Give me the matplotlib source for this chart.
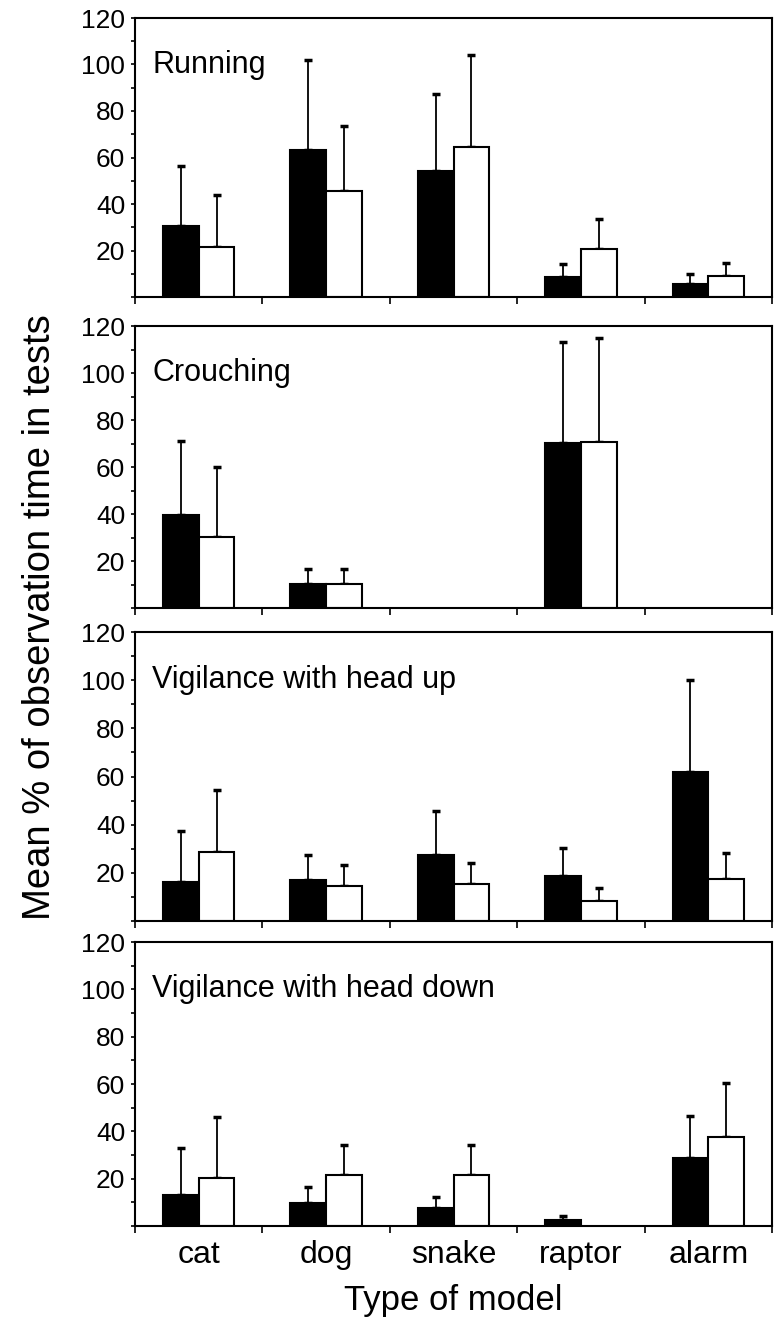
import numpy as np
import matplotlib
matplotlib.use('Agg')
import matplotlib.pyplot as plt
from matplotlib.ticker import MultipleLocator

plt.rcParams['font.family'] = ['Liberation Sans', 'DejaVu Sans']

models = ['cat', 'dog', 'snake', 'raptor', 'alarm']
panels = ['Running', 'Crouching', 'Vigilance with head up', 'Vigilance with head down']

# means (black = first group, white = second group) and top of error bar
black_mean = [
    [30.7, 63.1, 54.0, 8.4, 5.8],
    [39.7, 10.2, 0.0, 70.1, 0.0],
    [16.3, 17.0, 27.5, 18.7, 61.7],
    [13.1, 9.8, 7.5, 2.7, 28.8],
]
black_top = [
    [56.3, 102.0, 87.2, 14.0, 10.1],
    [71.2, 16.7, 0.0, 113.3, 0.0],
    [37.2, 27.2, 45.5, 30.4, 100.2],
    [32.8, 16.3, 12.4, 4.2, 46.6],
]
white_mean = [
    [21.3, 45.4, 64.4, 20.6, 8.9],
    [30.2, 10.2, 0.0, 70.7, 0.0],
    [28.5, 14.7, 15.2, 8.3, 17.6],
    [20.4, 21.4, 21.4, 0.0, 37.7],
]
white_top = [
    [43.9, 73.6, 104.2, 33.6, 14.6],
    [60.2, 16.7, 0.0, 114.7, 0.0],
    [54.2, 23.2, 24.2, 13.5, 28.2],
    [46.1, 34.3, 34.3, 0.0, 60.5],
]

# axes boxes in pixels (top, bottom) on a 779 x 1329 canvas
W, H = 779, 1329
left, right = 135, 772
boxes = [(18, 297), (326, 608), (632, 921), (942, 1226)]

fig = plt.figure(figsize=(W / 100, H / 100), dpi=100)

x = np.arange(len(models)) + 0.5
bw = 0.28


def draw_group(ax, xs, mean, top, color):
    mean, top = np.array(mean), np.array(top)
    keep = mean > 0  # empty bars are not drawn at all
    ax.bar(xs[keep], mean[keep], bw, color=color, edgecolor='black',
           linewidth=1.5, zorder=2)
    ax.errorbar(xs[keep], mean[keep],
                yerr=[np.zeros(keep.sum()), top[keep] - mean[keep]],
                fmt='none', ecolor='black', elinewidth=1.3, capsize=3,
                capthick=2.5, zorder=1)


for i, (top, bot) in enumerate(boxes):
    ax = fig.add_axes([left / W, 1 - bot / H, (right - left) / W, (bot - top) / H])
    draw_group(ax, x - bw / 2, black_mean[i], black_top[i], 'black')
    draw_group(ax, x + bw / 2, white_mean[i], white_top[i], 'white')

    ax.set_xlim(0, 5)
    ax.set_ylim(0, 120)
    ax.set_yticks([20, 40, 60, 80, 100, 120])
    ax.yaxis.set_minor_locator(MultipleLocator(10))
    ax.tick_params(axis='y', which='both', direction='out', length=3, width=1.2,
                   labelsize=19, pad=4)
    ax.set_xticks(np.arange(6))
    ax.tick_params(axis='x', which='major', direction='out', length=5, width=1.2,
                   labelbottom=False)
    for s in ax.spines.values():
        s.set_linewidth(1.5)
    ax.text(0.027, 100, panels[i], transform=ax.get_yaxis_transform(),
            fontsize=22, va='center', ha='left')

    if i == len(boxes) - 1:
        ax.set_xticks(x, minor=True)
        ax.set_xticklabels(models, minor=True)
        ax.tick_params(axis='x', which='minor', length=0, labelsize=23, pad=10)
        ax.set_xlabel('Type of model', fontsize=25, labelpad=10)

fig.text(40 / W, 1 - 617 / H, 'Mean % of observation time in tests', rotation=90,
         fontsize=27.5, ha='center', va='center')

fig.savefig('out.png', dpi=100)
